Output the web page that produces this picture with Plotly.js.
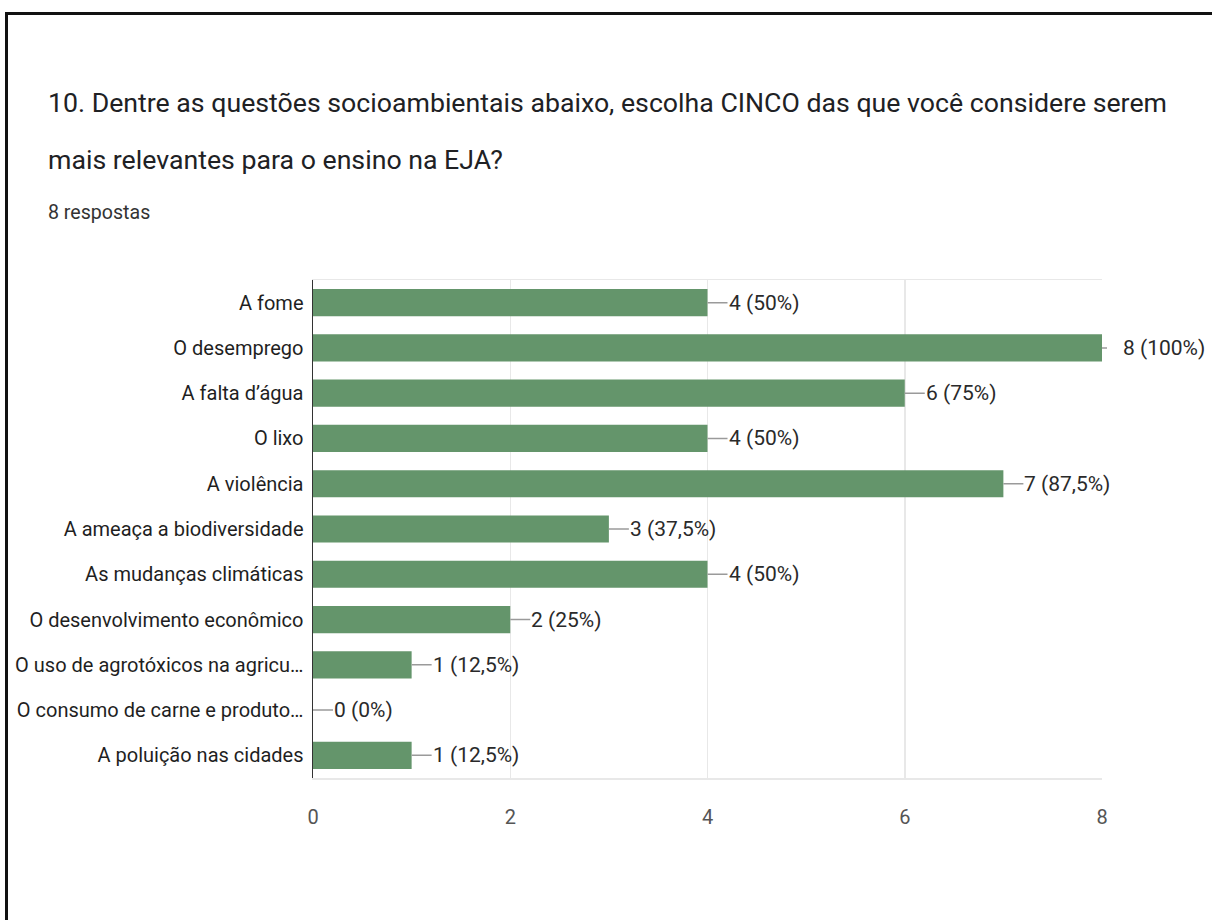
<!DOCTYPE html>
<html>
<head>
<meta charset="utf-8">
<script src="https://cdn.plot.ly/plotly-3.0.1.min.js"></script>
<style>
  html, body { margin: 0; padding: 0; background: #fff; }
  #chart { width: 1212px; height: 920px; }
  #frame { position: absolute; left: 5px; top: 12px; width: 1220px; height: 920px;
           border-top: 3px solid #111; border-left: 3px solid #111; pointer-events: none; }
</style>
</head>
<body>
<div id="chart"></div>
<div id="frame"></div>
<script>
const categories = [
  "A fome",
  "O desemprego",
  "A falta d’água",
  "O lixo",
  "A violência",
  "A ameaça a biodiversidade",
  "As mudanças climáticas",
  "O desenvolvimento econômico",
  "O uso de agrotóxicos na agricu…",
  "O consumo de carne e produto…",
  "A poluição nas cidades"
];
const counts = [4, 8, 6, 4, 7, 3, 4, 2, 1, 0, 1];
const percentLabels = ["50%", "100%", "75%", "50%", "87,5%", "37,5%", "50%", "25%", "12,5%", "0%", "12,5%"];
const xTicks = [0, 2, 4, 6, 8];
const titleLine1 = "10. Dentre as questões socioambientais abaixo, escolha CINCO das que você considere serem";
const titleLine2 = "mais relevantes para o ensino na EJA?";
const subtitle = "8 respostas";

const FONT = "Roboto, Arial, sans-serif";
const W = 1212, H = 920;
const M = { l: 313, r: 110, t: 280, b: 142 };
const pw = W - M.l - M.r, ph = H - M.t - M.b;
const px = p => (p - M.l) / pw;
const py = p => (H - M.b - p) / ph;
const xMax = xTicks[xTicks.length - 1];

const trace = {
  type: 'bar',
  orientation: 'h',
  x: counts,
  y: categories,
  marker: { color: '#64956b' },
  width: 0.6,
  hoverinfo: 'none'
};

const valueAnns = counts.map((v, i) => ({
  x: v, y: categories[i], xref: 'x', yref: 'y',
  text: v + " (" + percentLabels[i] + ")",
  showarrow: true, arrowhead: 0, arrowwidth: 1.5, arrowcolor: '#9a9a9a',
  ax: 20, ay: 0, xanchor: 'left', yanchor: 'middle',
  startstandoff: v === xMax ? 15 : 0,
  font: { family: FONT, size: 21, color: '#2a2a2a' },
  borderpad: 0
}));

const textAnns = [
  { text: titleLine1, y: py(103), size: 26.7, color: '#202124' },
  { text: titleLine2, y: py(160), size: 26.7, color: '#202124' },
  { text: subtitle, y: py(212), size: 19.6, color: '#333' }
].map(a => ({
  xref: 'paper', yref: 'paper', x: px(46), y: a.y,
  xanchor: 'left', yanchor: 'middle', showarrow: false,
  text: a.text, font: { family: FONT, size: a.size, color: a.color }
}));

const layout = {
  width: W, height: H,
  margin: M,
  paper_bgcolor: '#fff', plot_bgcolor: '#fff',
  showlegend: false,
  bargap: 0.4,
  xaxis: {
    range: [0, xMax],
    tickvals: xTicks,
    ticktext: xTicks.map(String),
    showgrid: true, gridcolor: '#e8e8e8', gridwidth: 1.5,
    zeroline: false,
    showline: true, linecolor: '#e8e8e8', linewidth: 1.5, mirror: true,
    ticks: '',
    ticklabelstandoff: 20,
    tickfont: { family: FONT, size: 20, color: '#555' },
    fixedrange: true
  },
  yaxis: {
    type: 'category',
    autorange: 'reversed',
    showgrid: false, zeroline: false,
    showline: true, linecolor: '#333', linewidth: 1.5,
    ticks: '',
    ticklabelstandoff: 4,
    tickfont: { family: FONT, size: 20, color: '#1f1f1f' },
    fixedrange: true
  },
  annotations: valueAnns.concat(textAnns)
};

Plotly.newPlot('chart', [trace], layout, { displayModeBar: false, staticPlot: true });
</script>
</body>
</html>
